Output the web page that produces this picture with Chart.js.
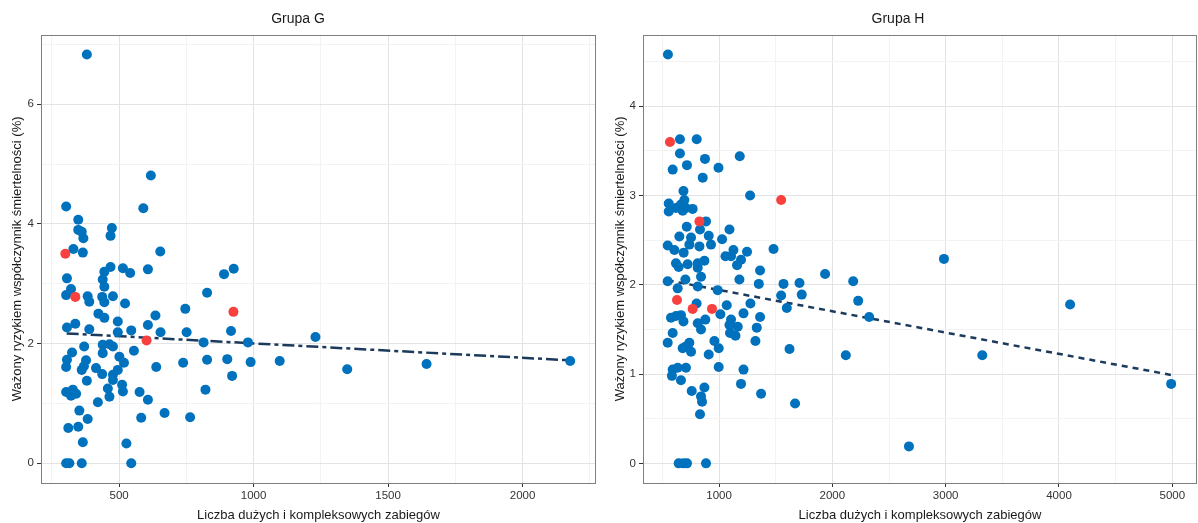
<!DOCTYPE html>
<html>
<head>
<meta charset="utf-8">
<script src="https://cdn.jsdelivr.net/npm/chart.js@4.4.0/dist/chart.umd.min.js"></script>
<style>
  body { margin: 0; background: #fff; }
  .panel { position: absolute; top: 0; width: 599px; height: 523px; }
</style>
</head>
<body>
<div class="panel" style="left:0"><canvas id="chartG" width="599" height="523"></canvas></div>
<div class="panel" style="left:599px"><canvas id="chartH" width="599" height="523"></canvas></div>
<script>
// Grupa G - punkty niebieskie
const gBlueX = [303,590,348,348,361,367,473,468,330,365,653,468,445,514,541,607,306,439,445,890,926,321,303,383,389,437,445,477,522,827,423,445,495,635,746,306,337,389,495,545,607,654,751,916,814,979,370,325,306,303,439,464,477,439,555,501,518,377,369,361,414,437,495,477,477,638,738,827,902,989,920,380,303,328,321,340,458,464,511,514,576,607,421,821,352,383,311,348,365,582,669,764,527,303,315,361,545,380,618,1230,1097,1348,1643,2177];
const gBlueY = [4.29,4.26,4.07,3.90,3.87,3.76,3.93,3.80,3.58,3.52,3.54,3.28,3.20,3.26,3.18,3.24,3.09,3.07,2.95,3.16,3.25,2.91,2.81,2.79,2.70,2.78,2.69,2.79,2.67,2.85,2.50,2.43,2.37,2.47,2.58,2.27,2.33,2.24,2.19,2.22,2.31,2.19,2.19,2.21,2.02,2.02,1.95,1.85,1.73,1.61,1.98,1.99,1.95,1.84,1.88,1.78,1.68,1.72,1.62,1.56,1.59,1.49,1.56,1.48,1.39,1.61,1.68,1.73,1.74,1.69,1.46,1.38,1.19,1.23,1.13,1.16,1.25,1.11,1.31,1.20,1.19,1.06,1.02,1.23,0.88,0.74,0.59,0.61,0.35,0.76,0.84,0.77,0.33,0,0,0,0,6.83,4.81,2.11,1.71,1.57,1.66,1.71];
// Grupa G - punkty czerwone
const gRedX = [300,337,602,925];
const gRedY = [3.50,2.78,2.05,2.53];
// Grupa G - linia trendu
const gTrendX = [305,2177];
const gTrendY = [2.17,1.72];

// Grupa H
const hBlueX = [655,803,655,876,1183,717,591,995,856,686,1274,556,556,620,664,694,708,767,679,885,715,832,1092,650,753,909,1027,547,606,688,738,827,929,1127,1247,1481,1057,1106,620,723,812,871,1194,1159,644,812,1362,1936,841,1180,547,703,1351,1569,1710,635,812,988,1548,1730,802,1068,1277,1598,1012,1216,1362,576,620,664,686,812,841,879,1106,1092,1165,1097,1145,1333,1321,1622,591,547,679,738,753,708,959,997,909,591,635,708,584,664,997,1216,1194,1371,1671,759,871,841,850,832,644,686,717,885,2184,2228,2325,2119,2985,2676,3323,4098,4990,549];
const hBlueY = [3.63,3.63,3.47,3.41,3.44,3.34,3.29,3.31,3.20,3.05,3.00,2.91,2.82,2.86,2.90,2.95,2.86,2.85,2.83,2.71,2.65,2.62,2.62,2.54,2.53,2.55,2.51,2.44,2.39,2.36,2.45,2.43,2.45,2.39,2.37,2.40,2.32,2.32,2.24,2.23,2.24,2.27,2.28,2.22,2.20,2.19,2.16,2.12,2.09,2.06,2.04,2.06,2.01,2.01,2.02,1.96,1.98,1.94,1.88,1.89,1.79,1.77,1.79,1.74,1.67,1.68,1.64,1.63,1.65,1.66,1.59,1.57,1.50,1.61,1.61,1.55,1.53,1.46,1.43,1.52,1.37,1.28,1.46,1.35,1.29,1.35,1.25,1.31,1.37,1.29,1.22,1.05,1.07,1.07,0.98,0.93,1.08,1.05,0.89,0.78,0.67,0.81,0.85,0.75,0.69,0.55,0,0,0,0,2.04,1.82,1.64,1.21,2.29,0.19,1.21,1.78,0.89,4.58];
const hRedX = [567,1548,827,629,767,938];
const hRedY = [3.60,2.95,2.71,1.83,1.73,1.73];
const hTrendX = [547,4990];
const hTrendY = [2.05,0.99];

// osie
const gXTicks = [250,500,750,1000,1250,1500,1750,2000,2250];
const gYTicks = [0,1,2,3,4,5,6,7];
const hXTicks = [500,1000,1500,2000,2500,3000,3500,4000,4500,5000];
const hYTicks = [0,0.5,1,1.5,2,2.5,3,3.5,4,4.5];

const xTitle = 'Liczba dużych i kompleksowych zabiegów';
const yTitle = 'Ważony ryzykiem współczynnik śmiertelności (%)';

Chart.defaults.font.family = '"Liberation Sans", Arial, sans-serif';
Chart.defaults.color = '#4d4d4d';

const toPoints = (xs, ys) => xs.map((x, i) => ({ x: x, y: ys[i] }));

const panelBorder = {
  id: 'panelBorder',
  afterDraw(chart) {
    const a = chart.chartArea;
    const ctx = chart.ctx;
    ctx.save();
    ctx.strokeStyle = '#7f7f7f';
    ctx.lineWidth = 1;
    ctx.strokeRect(Math.round(a.left) + 0.5, Math.round(a.top) + 0.5, Math.round(a.right - a.left) - 1, Math.round(a.bottom - a.top));
    ctx.restore();
  }
};

function makeChart(id, opt) {
  return new Chart(document.getElementById(id), {
    data: {
      datasets: [
        {
          type: 'scatter',
          data: toPoints(opt.redX, opt.redY),
          backgroundColor: '#f8403f',
          borderWidth: 0,
          pointRadius: 5,
          order: 1
        },
        {
          type: 'scatter',
          data: toPoints(opt.blueX, opt.blueY),
          backgroundColor: '#0071bc',
          borderWidth: 0,
          pointRadius: 5,
          order: 2
        },
        {
          type: 'line',
          data: toPoints(opt.trendX, opt.trendY),
          borderColor: '#1b3a5c',
          borderWidth: 2.5,
          borderDash: opt.dash,
          pointRadius: 0,
          fill: false,
          order: 3
        }
      ]
    },
    options: {
      responsive: false,
      animation: false,
      layout: { autoPadding: false, padding: { right: opt.padRight } },
      plugins: {
        legend: { display: false },
        tooltip: { enabled: false },
        title: {
          display: true,
          text: opt.title,
          color: '#1a1a1a',
          font: { size: 14, weight: 'normal' },
          padding: { top: 11, bottom: 7 }
        }
      },
      scales: {
        x: {
          type: 'linear',
          min: opt.xMin,
          max: opt.xMax,
          afterBuildTicks: axis => { axis.ticks = opt.xTicks.map(v => ({ value: v })); },
          afterFit: scale => {
            scale.height = 40;
            scale.paddingLeft = 0;
            scale.paddingRight = 0;
          },
          border: { display: false },
          grid: {
            color: c => (c.tick && c.tick.value % opt.xMajor === 0) ? '#e3e3e3' : '#f3f3f3',
            lineWidth: 1,
            tickLength: 4,
            tickColor: c => (c.tick && c.tick.value % opt.xMajor === 0) ? '#333' : 'rgba(0,0,0,0)'
          },
          ticks: {
            autoSkip: false,
            maxRotation: 0,
            padding: 2,
            color: '#333',
            font: { size: 11.5 },
            callback: v => (v % opt.xMajor === 0 ? String(v) : '')
          },
          title: {
            display: true,
            text: xTitle,
            color: '#1a1a1a',
            font: { size: 13 },
            padding: { top: 1, bottom: 0 }
          }
        },
        y: {
          type: 'linear',
          min: opt.yMin,
          max: opt.yMax,
          afterBuildTicks: axis => { axis.ticks = opt.yTicks.map(v => ({ value: v })); },
          afterFit: scale => { scale.width = opt.yWidth; },
          border: { display: false },
          grid: {
            color: c => (c.tick && c.tick.value % opt.yMajor === 0) ? '#e3e3e3' : '#f3f3f3',
            lineWidth: 1,
            tickLength: 4,
            tickColor: c => (c.tick && c.tick.value % opt.yMajor === 0) ? '#333' : 'rgba(0,0,0,0)'
          },
          ticks: {
            autoSkip: false,
            padding: 3,
            color: '#333',
            font: { size: 11.5 },
            callback: v => (v % opt.yMajor === 0 ? String(v) : '')
          },
          title: {
            display: true,
            text: yTitle,
            color: '#1a1a1a',
            font: { size: 13 },
            padding: { top: opt.yTitlePad, bottom: 0 }
          }
        }
      }
    },
    plugins: [panelBorder]
  });
}

makeChart('chartG', {
  title: 'Grupa G',
  blueX: gBlueX, blueY: gBlueY, redX: gRedX, redY: gRedY,
  trendX: gTrendX, trendY: gTrendY,
  dash: [12, 4, 4, 4],
  xMin: 209.5, xMax: 2273, xTicks: gXTicks, xMajor: 500,
  yMin: -0.33, yMax: 7.16, yTicks: gYTicks, yMajor: 2,
  yWidth: 41, yTitlePad: 10, padRight: 3
});

makeChart('chartH', {
  title: 'Grupa H',
  blueX: hBlueX, blueY: hBlueY, redX: hRedX, redY: hRedY,
  trendX: hTrendX, trendY: hTrendY,
  dash: [6, 5],
  xMin: 329, xMax: 5218, xTicks: hXTicks, xMajor: 1000,
  yMin: -0.22, yMax: 4.80, yTicks: hYTicks, yMajor: 1,
  yWidth: 44, yTitlePad: 14, padRight: 1
});
</script>
</body>
</html>
